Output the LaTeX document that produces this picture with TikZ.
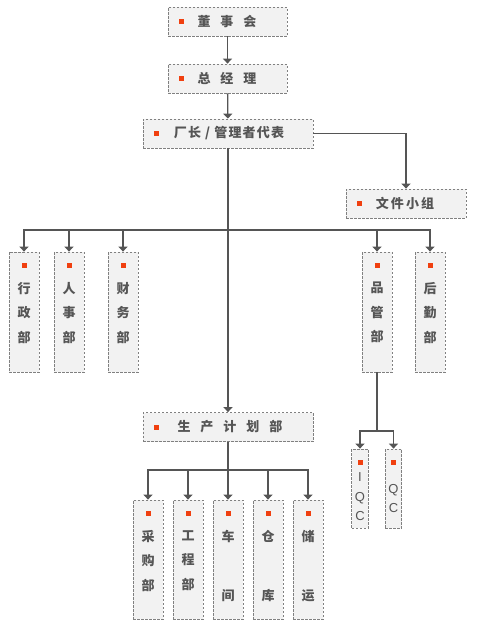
\documentclass[tikz,border=0pt]{standalone}
\usepackage{fontspec}
\newfontfamily\cjk{Noto Sans CJK SC}
\newfontfamily\latn{Liberation Sans}
\usetikzlibrary{arrows.meta}
\definecolor{linegray}{HTML}{555555}
\definecolor{textgray}{HTML}{555555}
\definecolor{boxgray}{HTML}{F2F2F2}
\definecolor{dashgray}{HTML}{808080}
\definecolor{bulletred}{HTML}{F04010}
\newcommand{\gapsp}{\hspace{10pt}}

\tikzset{
  unitbox/.style={draw=dashgray, fill=boxgray, line width=0.8pt,
    dash pattern=on 2.5pt off 1.5pt, inner sep=0pt, minimum width=#1},
  unitbox/.default=30pt,
  rowbox/.style={unitbox=#1, minimum height=29pt},
  colbox/.style={unitbox=30pt, minimum height=120pt},
  lowbox/.style={unitbox=30pt, minimum height=119pt},
  qcbox/.style={unitbox=16.5pt, minimum height=79pt},
  rowtext/.style={text=textgray, inner sep=0pt, font=\cjk\bfseries\fontsize{13}{15}\selectfont},
  coltext/.style={text=textgray, inner sep=0pt, align=center, anchor=north,
    font=\cjk\bfseries\fontsize{13}{#1}\selectfont},
  coltext/.default=24.5pt,
  qctext/.style={text=textgray, inner sep=0pt, align=center, anchor=north,
    font=\latn\fontsize{13}{19.5}\selectfont},
  bullet/.style={fill=bulletred, draw=none, inner sep=0pt, minimum size=5pt},
  link/.style={draw=linegray, line width=1.3pt, ->}
}

\begin{document}
\begin{tikzpicture}[x=1pt,y=-1pt,>={Triangle[width=9pt,length=5pt]}]
\useasboundingbox (0,0) rectangle (479,633);

% top chain
\node[rowbox=119pt] (dsh) at (227.5,21.5) {};
\node[rowbox=119pt] (zjl) at (227.5,78.5) {};
\node[rowbox=170pt] (cz) at (228,133.5) {};
\node[rowbox=120pt] (wj) at (406,203.5) {};
\node[rowbox=170pt] (sc) at (228,427) {};

\node[rowtext] (dshtxt) at (227,21.5) {董\gapsp 事\gapsp 会};
\node[rowtext] (zjltxt) at (227,78.5) {总\gapsp 经\gapsp 理};
\node[rowtext] (cztxt) at (229,133.5) {\addfontfeature{LetterSpace=9}厂长 / 管理者代表};
\node[rowtext] (wjtxt) at (405,203.5) {\addfontfeature{LetterSpace=16}文件小组};
\node[rowtext] (sctxt) at (230,427) {生\gapsp 产\gapsp 计\gapsp 划\gapsp 部};

\node[bullet] (dshb) at (181,21) {};
\node[bullet] (zjlb) at (181,78) {};
\node[bullet] (czb) at (156,133) {};
\node[bullet] (wjb) at (359,203) {};
\node[bullet] (scb) at (156,427) {};

% departments under the bus
\foreach \n/\x/\t in {xz/24/行\\政\\部, rs/69/人\\事\\部, cw/123/财\\务\\部,
                      pg/377/品\\管\\部, hq/430/后\\勤\\部}{
  \node[colbox] (\n) at (\x,312) {};
  \node[bullet] (\n b) at (\x,265) {};
  \node[coltext] (\n txt) at (\x,282) {\t};
}

% departments under production planning
\foreach \n/\x/\t/\s in {cg/148/采\\购\\部/24.5pt, gc/188/工\\程\\部/24.5pt,
                         cj/228/车\\间/59pt, ck/268/仓\\库/59pt, cy/308/储\\运/59pt}{
  \node[lowbox] (\n) at (\x,559.5) {};
  \node[bullet] (\n b) at (\x,513) {};
  \node[coltext=\s] (\n txt) at (\x,530) {\t};
}

% quality control
\node[qcbox] (iqc) at (360,488.5) {};
\node[qcbox] (qc) at (393.5,488.5) {};
\node[bullet] (iqcb) at (360,462) {};
\node[bullet] (qcb) at (393.5,462) {};
\node[qctext] (iqctxt) at (360,472.5) {I\\Q\\C};
\node[qctext] (qctxt) at (393.5,484) {Q\\C};

\coordinate (bus) at (228,230);
\coordinate (scbus) at (228,470);
\coordinate (pgbus) at (377,431);

\draw[link] (dsh) -- (zjl);
\draw[link] (zjl) -- (cz);
\draw[link] (cz.east) -| (wj.north);
\draw[link] (cz) -- (sc);
\foreach \n in {xz,rs,cw,pg,hq}
  \draw[link] (bus) -| (\n.north);
\foreach \n in {cg,gc,cj,ck,cy}
  \draw[link] (sc.south) -- (scbus) -| (\n.north);
\foreach \n in {iqc,qc}
  \draw[link] (pg.south) -- (pgbus) -| (\n.north);
\end{tikzpicture}
\end{document}
